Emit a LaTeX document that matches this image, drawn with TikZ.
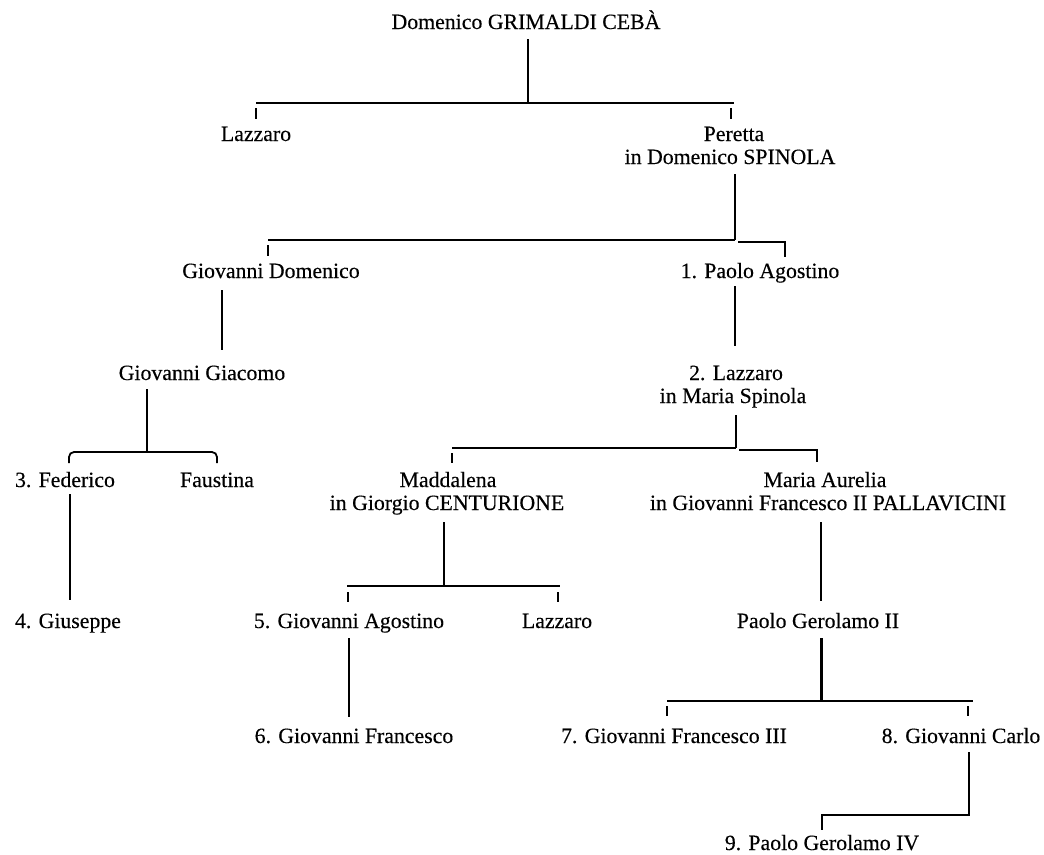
\documentclass[tikz,border=0pt]{standalone}
\usepackage{fontspec}
\setmainfont{Liberation Serif}[FakeBold=0.3]
\usetikzlibrary{calc}
\tikzset{
  nm/.style={anchor=base, inner sep=0pt, font=\fontsize{21.8}{24}\selectfont},
  ln/.style={line width=1.8pt, line cap=butt},
  tk/.style={line width=2.2pt}
}
\begin{document}
\begin{tikzpicture}[x=1pt, y=-1pt]
\useasboundingbox (0,0) rectangle (1044,854);

% names
\node[nm] (root) at (526,29) {Domenico GRIMALDI CEBÀ};
\node[nm] (laz1) at (256,141) {Lazzaro};
\node[nm] (per)  at (734,141) {Peretta};
\node[nm] (per2) at (730,164) {in Domenico SPINOLA};
\node[nm] (gdom) at (271,278) {Giovanni Domenico};
\node[nm] (pag)  at (760,278) {1. Paolo Agostino};
\node[nm] (ggia) at (202,380) {Giovanni Giacomo};
\node[nm] (laz2) at (736,380) {2. Lazzaro};
\node[nm] (laz2b) at (733,403) {in Maria Spinola};
\node[nm] (fed)  at (65,487) {3. Federico};
\node[nm] (fau)  at (217,487) {Faustina};
\node[nm] (mad)  at (448,487) {Maddalena};
\node[nm] (mad2) at (447,510) {in Giorgio CENTURIONE};
\node[nm] (mau)  at (825,487) {Maria Aurelia};
\node[nm] (mau2) at (828,510) {in Giovanni Francesco II PALLAVICINI};
\node[nm] (giu)  at (68,628) {4. Giuseppe};
\node[nm] (gag)  at (349,628) {5. Giovanni Agostino};
\node[nm] (laz3) at (557,628) {Lazzaro};
\node[nm] (pg2)  at (818,628) {Paolo Gerolamo II};
\node[nm] (gfr)  at (354,743) {6. Giovanni Francesco};
\node[nm] (gf3)  at (674,743) {7. Giovanni Francesco III};
\node[nm] (gca)  at (961,743) {8. Giovanni Carlo};
\node[nm] (pg4)  at (822,850) {9. Paolo Gerolamo IV};

% junctions
\coordinate (j1) at (528,103);
\coordinate (j2) at (735,240);
\coordinate (v3) at (735,346);
\coordinate (v4) at (222,350);
\coordinate (j5) at (147,452);
\coordinate (v6) at (70,600);
\coordinate (j7) at (736,448);
\coordinate (j8) at (444,586);
\coordinate (v9) at (349,717);
\coordinate (v10) at (821,601);
\coordinate (j11) at (821,701);
\coordinate (c12) at (969,815);

% Domenico -> Lazzaro, Peretta
\draw[ln] (root.base -| j1) ++(0,10) -- (j1);
\draw[ln] (laz1.base |- j1) -- (per.base |- j1);
\draw[tk] (laz1.base |- j1) ++(0,5) -- ++(0,11);
\draw[tk] ($(per.base |- j1)+(-3,5)$) -- ++(0,11);

% Peretta -> Giovanni Domenico, Paolo Agostino
\draw[ln] (per2.base -| j2) ++(0,10) -- (j2);
\draw[ln] ($(gdom.base |- j2)+(-3,0)$) -- (j2);
\draw[tk] ($(gdom.base |- j2)+(-3,5)$) -- ++(0,11);
\draw[ln] ($(j2)+(3,2)$) -| ($(pag.base)+(25,-21)$);

% single lines of descent
\draw[ln] (pag.base -| v3) ++(0,8) -- (v3);
\draw[ln] (gdom.base -| v4) ++(0,12) -- (v4);

% Giovanni Giacomo -> Federico, Faustina
\draw[ln] (ggia.base -| j5) ++(0,9) -- (j5);
\draw[ln, rounded corners=5pt] ($(fed.base)+(4,-24)$) |- (j5) -| ($(fau.base)+(0,-24)$);
\draw[ln] (fed.base -| v6) ++(0,7) -- (v6);

% Lazzaro -> Maddalena, Maria Aurelia
\draw[ln] (laz2b.base -| j7) ++(0,12) -- (j7);
\draw[ln] ($(mad.base |- j7)+(4,0)$) -- (j7);
\draw[tk] ($(mad.base |- j7)+(4,5)$) -- ++(0,10);
\draw[ln] ($(j7)+(3,2)$) -| ($(mau.base)+(-8,-25)$);

% Maddalena -> Giovanni Agostino, Lazzaro
\draw[ln] (mad2.base -| j8) ++(0,12) -- (j8);
\draw[ln] ($(gag.base |- j8)+(-2,0)$) -- ($(laz3.base |- j8)+(3,0)$);
\draw[tk] ($(gag.base |- j8)+(-1,6)$) -- ++(0,10);
\draw[tk] ($(laz3.base |- j8)+(1,6)$) -- ++(0,10);
\draw[ln] (gag.base -| v9) ++(0,10) -- (v9);

% Maria Aurelia -> Paolo Gerolamo II
\draw[ln] (mau2.base -| v10) ++(0,12) -- (v10);

% Paolo Gerolamo II -> Giovanni Francesco III, Giovanni Carlo
\draw[line width=3pt] (pg2.base -| j11) ++(0,10) -- (j11);
\draw[ln] ($(gf3.base |- j11)+(-7,0)$) -- ($(gca.base |- j11)+(12,0)$);
\draw[tk] ($(gf3.base |- j11)+(-7,5)$) -- ++(0,10);
\draw[tk] ($(gca.base |- j11)+(7,5)$) -- ++(0,10);

% Giovanni Carlo -> Paolo Gerolamo IV
\draw[ln] (gca.base -| c12) ++(0,9) -- (c12) -| ($(pg4.base)+(0,-20)$);
\end{tikzpicture}
\end{document}
